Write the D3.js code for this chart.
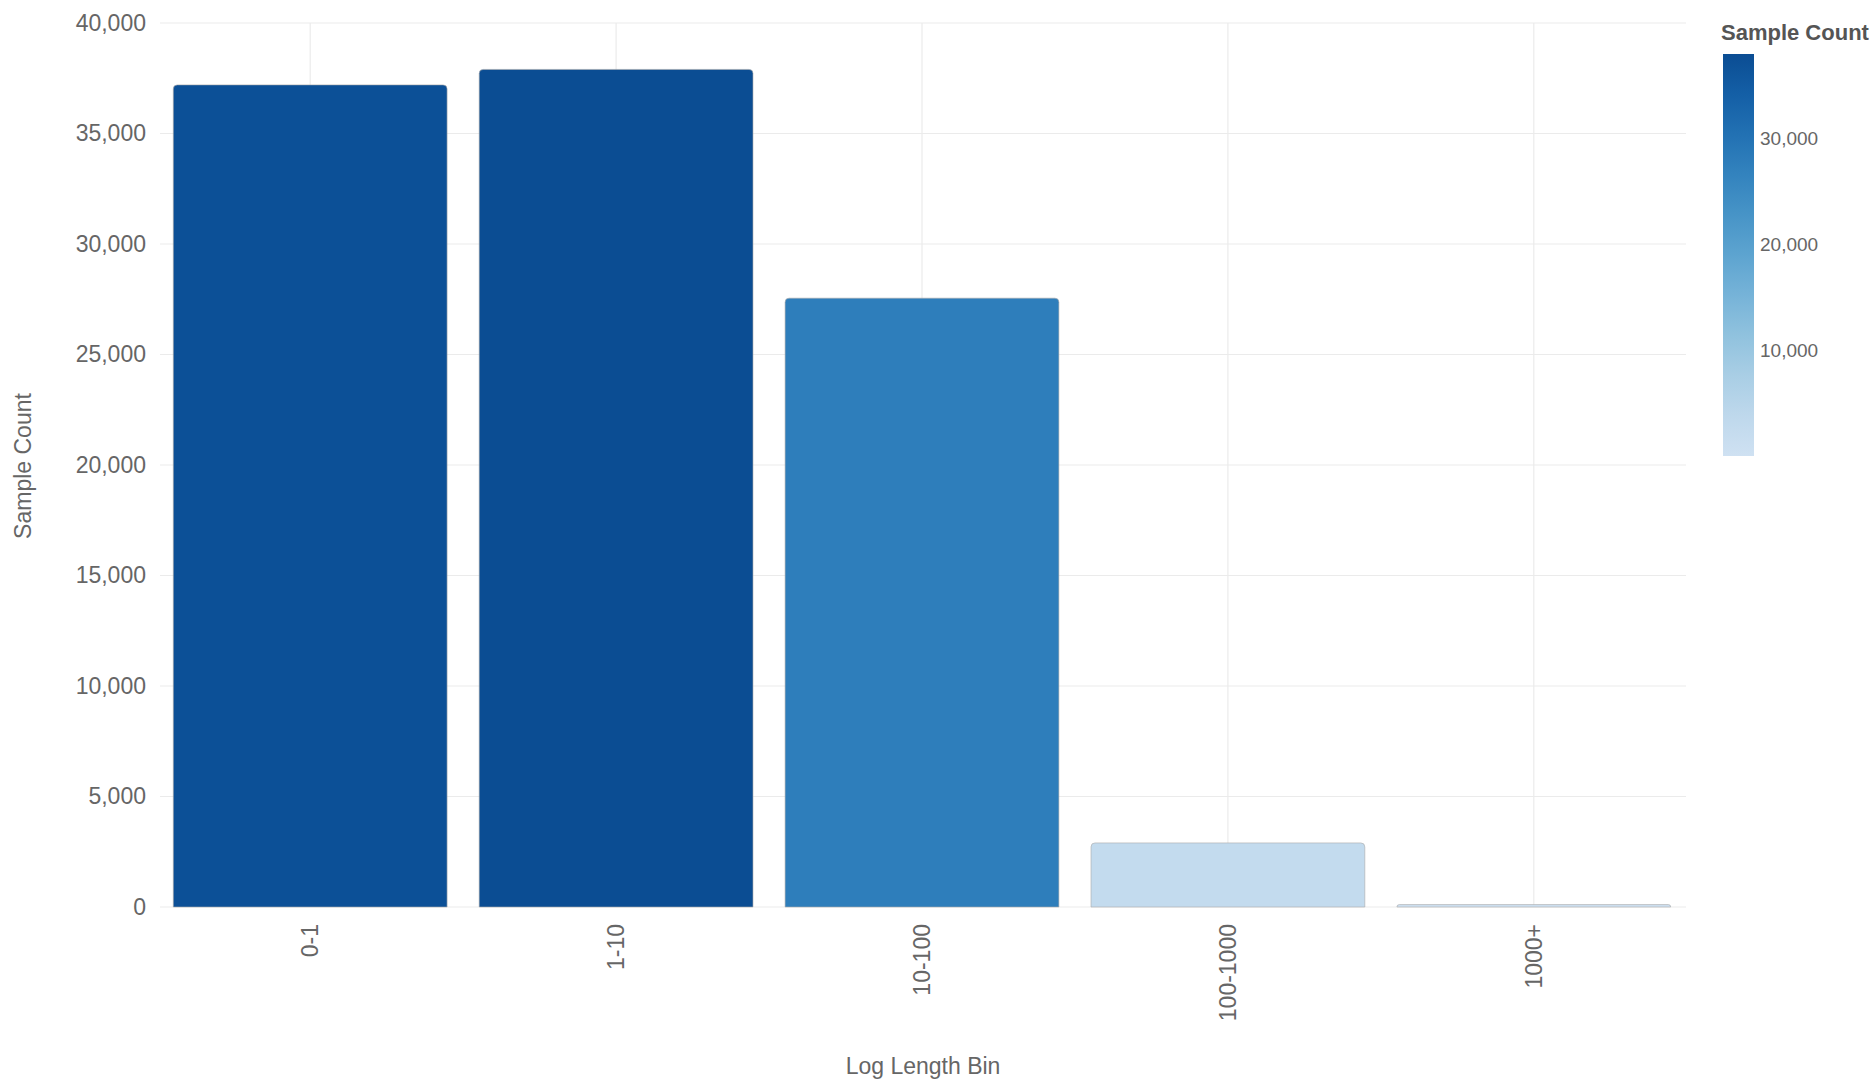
<!DOCTYPE html>
<html lang="en">
<head>
<meta charset="UTF-8">
<title>Sample Count by Log Length Bin</title>
<script src="https://d3js.org/d3.v7.min.js"></script>
<style>
  html, body { margin: 0; padding: 0; background: #fff; }
  svg { display: block; font-family: "Liberation Sans", Arial, sans-serif; }
</style>
</head>
<body>
<svg width="1872" height="1084"></svg>
<script>
// data
const bins = ["0-1", "1-10", "10-100", "100-1000", "1000+"];
const counts = [37200, 37900, 27550, 2900, 110];
const yTicks = [0, 5000, 10000, 15000, 20000, 25000, 30000, 35000, 40000];
const legendTicks = [10000, 20000, 30000];

const svg = d3.select("svg");
const textColor = "#666";
const gridColor = "#ebebeb";

const x = d3.scaleBand().domain(bins).range([158, 1686]).paddingInner(0.105).paddingOuter(0.05);
const y = d3.scaleLinear().domain([0, 40000]).range([907, 23]);

const cMin = d3.min(counts), cMax = d3.max(counts);
const color = v => d3.interpolateBlues(0.2 + 0.69 * (v - cMin) / (cMax - cMin));

// grid
svg.append("g").selectAll("line").data(yTicks).join("line")
  .attr("x1", 160).attr("x2", 1686)
  .attr("y1", d => y(d)).attr("y2", d => y(d))
  .attr("stroke", gridColor).attr("stroke-width", 1.2);
svg.append("g").selectAll("line").data(bins).join("line")
  .attr("x1", d => x(d) + x.bandwidth() / 2).attr("x2", d => x(d) + x.bandwidth() / 2)
  .attr("y1", y(40000)).attr("y2", y(0))
  .attr("stroke", gridColor).attr("stroke-width", 1.2);

// bars with rounded top corners
const r = 4;
function barPath(d, i) {
  const x0 = x(bins[i]), x1 = x0 + x.bandwidth();
  const y0 = y(0), y1 = y(d);
  const rr = Math.min(r, (y0 - y1));
  return `M${x0},${y0}V${y1 + rr}Q${x0},${y1} ${x0 + rr},${y1}H${x1 - rr}Q${x1},${y1} ${x1},${y1 + rr}V${y0}Z`;
}
svg.append("g").selectAll("path").data(counts).join("path")
  .attr("d", barPath)
  .attr("fill", d => color(d))
  .attr("stroke", "#aaa").attr("stroke-opacity", 0.6).attr("stroke-width", 1);

// y axis
const yAxis = svg.append("g").attr("transform", "translate(146,0)")
  .call(d3.axisLeft(y).tickValues(yTicks).tickSize(0).tickPadding(0).tickFormat(d3.format(",")));
yAxis.select(".domain").remove();
yAxis.selectAll("text").attr("fill", textColor).style("font-size", "23px")
  .style("font-family", "'Liberation Sans', Arial, sans-serif");

// x axis
const xAxis = svg.append("g").attr("transform", `translate(0,${y(0)})`)
  .call(d3.axisBottom(x).tickSize(0));
xAxis.select(".domain").remove();
xAxis.selectAll("text")
  .attr("fill", textColor).style("font-size", "23px")
  .style("font-family", "'Liberation Sans', Arial, sans-serif")
  .attr("transform", "rotate(-90)")
  .attr("text-anchor", "end")
  .attr("x", -17).attr("y", 0).attr("dy", "0.35em");

// axis titles
svg.append("text").attr("x", 923).attr("y", 1074).attr("text-anchor", "middle")
  .attr("fill", textColor).style("font-size", "23px").text("Log Length Bin");
svg.append("text").attr("transform", "translate(31,466) rotate(-90)").attr("text-anchor", "middle")
  .attr("fill", textColor).style("font-size", "23px").text("Sample Count");

// colour legend
const lg = svg.append("g");
const ly = d3.scaleLinear().domain([cMin, cMax]).range([456, 54]);
const defs = svg.append("defs");
const grad = defs.append("linearGradient").attr("id", "cbar")
  .attr("x1", 0).attr("y1", 1).attr("x2", 0).attr("y2", 0);
d3.range(0, 1.0001, 0.1).forEach(t => {
  grad.append("stop").attr("offset", t).attr("stop-color", color(cMin + t * (cMax - cMin)));
});
lg.append("text").attr("x", 1721).attr("y", 40).attr("fill", "#555")
  .style("font-size", "22px").style("font-weight", "bold").text("Sample Count");
lg.append("rect").attr("x", 1723).attr("y", ly(cMax)).attr("width", 31)
  .attr("height", ly(cMin) - ly(cMax)).attr("fill", "url(#cbar)");
lg.selectAll(".lt").data(legendTicks).join("text").attr("class", "lt")
  .attr("x", 1760).attr("y", d => ly(d)).attr("dy", "0.35em")
  .attr("fill", textColor).style("font-size", "19px").text(d3.format(","));
</script>
</body>
</html>
